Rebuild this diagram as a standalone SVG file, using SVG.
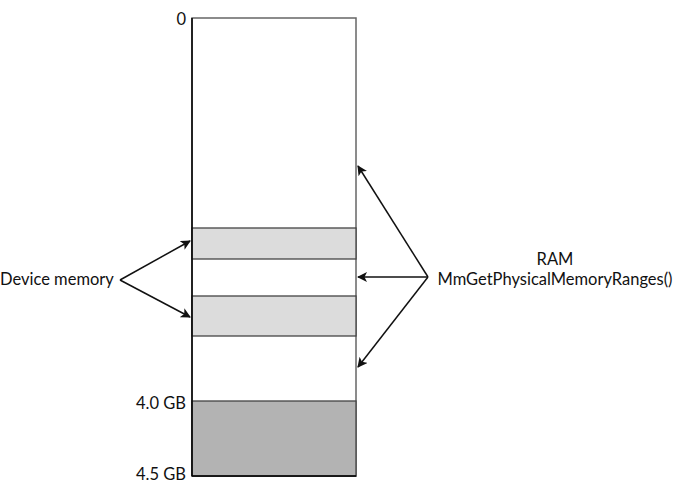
<svg xmlns="http://www.w3.org/2000/svg" width="676" height="484" viewBox="0 0 676 484">
<style>
text{font-family:Lato,"Noto Sans",sans-serif;font-size:16.5px;fill:#111}
.band{stroke:#444;stroke-width:1.3}
.conn line{stroke:#111;stroke-width:1.5;marker-end:url(#ah)}
</style>
<defs>
<marker id="ah" viewBox="0 0 10 10" refX="9" refY="5" markerWidth="10" markerHeight="10" markerUnits="userSpaceOnUse" orient="auto">
<path d="M0,0 L10,5 L0,10 L2.5,5 Z" fill="#111"/>
</marker>
</defs>
<g id="memory">
<rect x="192" y="18" width="164" height="458" fill="#fff" stroke="#666" stroke-width="1.5"/>
<rect class="band" id="dev1" x="192" y="228" width="164" height="31" fill="#dcdcdc"/>
<rect class="band" id="dev2" x="192" y="296" width="164" height="40" fill="#dcdcdc"/>
<rect class="band" id="high" x="192" y="401" width="164" height="75" fill="#b3b3b3"/>
<line x1="192" y1="18" x2="192" y2="476" stroke="#000" stroke-width="1.5"/>
<line x1="192" y1="476" x2="356" y2="476" stroke="#000" stroke-width="1.5"/>
</g>
<g id="labels">
<text x="186" y="25" text-anchor="end">0</text>
<text x="186" y="409" text-anchor="end">4.0 GB</text>
<text x="186" y="480" text-anchor="end">4.5 GB</text>
</g>
<g id="device-label"><text x="0" y="285">Device memory</text></g>
<g id="ram-label">
<text x="555" y="265" text-anchor="middle">RAM</text>
<text x="555" y="285" text-anchor="middle">MmGetPhysicalMemoryRanges()</text>
</g>
<g class="conn" id="connectors">
<line x1="120" y1="280" x2="190" y2="241"/>
<line x1="120" y1="280" x2="190" y2="317"/>
<line x1="428" y1="277" x2="358" y2="166"/>
<line x1="428" y1="277" x2="358" y2="277"/>
<line x1="428" y1="277" x2="358" y2="367"/>
</g>
</svg>
